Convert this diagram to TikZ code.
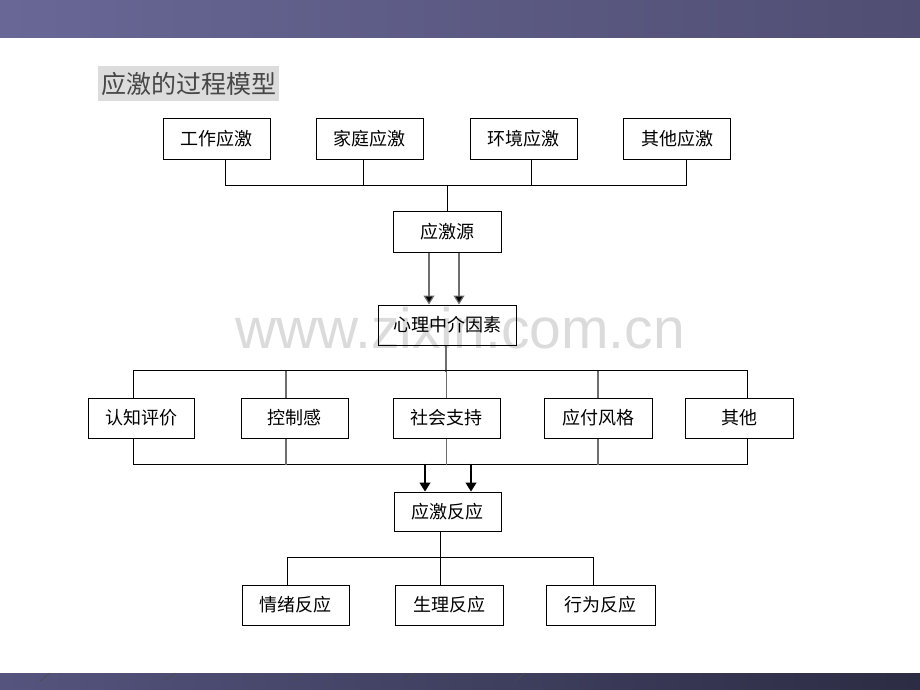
\documentclass[tikz,border=0pt]{standalone}
\usepackage{fontspec}
\setmainfont{Noto Sans CJK SC}
\newfontfamily\wmfont{Liberation Sans}
\usepackage{tikz}
\usetikzlibrary{arrows.meta}

\definecolor{bandtopL}{RGB}{104,103,150}
\definecolor{bandtopR}{RGB}{80,78,114}
\definecolor{bandbotL}{RGB}{84,84,126}
\definecolor{bandbotR}{RGB}{44,44,68}
\definecolor{titlebg}{RGB}{220,220,220}
\definecolor{linegray}{RGB}{110,110,110}

\begin{document}
\begin{tikzpicture}[x=1pt,y=-1pt,
    box/.style={draw,fill=white,line width=1pt,minimum width=107pt,minimum height=40pt,inner sep=0pt,font=\fontsize{18}{20}\selectfont},
    link/.style={line width=1pt},
    glink/.style={line width=1.3pt,draw=linegray},
    arr/.style={line width=1.2pt,draw=linegray,-{Triangle[length=9pt,width=11pt,fill=black]}}]
    \useasboundingbox (0,0) rectangle (920,690);

    % bands
    \shade[left color=bandtopL,right color=bandtopR] (0,0) rectangle (920,38);
    \shade[left color=bandbotL,right color=bandbotR] (0,673) rectangle (920,690);
    \foreach \x in {40,165,292,405,515}
        \draw[black!70,line width=0.6pt] (\x,681) -- (\x+10,673);

    % watermark
    \node [text=black!14,font=\wmfont\fontsize{57}{60}\selectfont] (WM) at (460,328) {www.zixin.com.cn};

    % title
    \fill[titlebg] (98,66) rectangle (279,101);
    \node [text=black!72,font=\fontsize{25}{28}\selectfont] (T) at (188.5,84) {应激的过程模型};

    % stressors
    \node [box] (GZ) at (216.5,139) {工作应激};
    \node [box] (JT) at (369.5,139) {家庭应激};
    \node [box] (HJ) at (523.5,139) {环境应激};
    \node [box] (QT) at (677,139) {其他应激};
    \node [box,minimum width=108pt,minimum height=41pt] (YJY) at (447,231.5) {应激源};
    \draw[link] ([xshift=8.5pt]GZ.south) -- ++(0,26) -| ([xshift=9pt]QT.south);
    \draw[link] ([xshift=-6.5pt]JT.south) -- ++(0,26);
    \draw[link] ([xshift=7.5pt]HJ.south) -- ++(0,26);
    \draw[link] (YJY.north) -- ++(0,-26);

    % mediators
    \node [box,fill=none,minimum width=138pt] (XL) at (447,325) {心理中介因素};
    \draw[arr] ([xshift=-18pt]YJY.south) -- ([xshift=-18pt]YJY.south |- XL.north);
    \draw[arr] ([xshift=12pt]YJY.south) -- ([xshift=12pt]YJY.south |- XL.north);

    \node [box,minimum width=106pt] (RZ) at (141,418) {认知评价};
    \node [box] (KZ) at (294.5,418) {控制感};
    \node [box] (SH) at (446.5,418) {社会支持};
    \node [box,minimum width=108pt] (YF) at (598,418) {应付风格};
    \node [box,minimum width=108pt] (QT2) at (739,418) {其他};
    \draw[glink] ([xshift=-1pt]XL.south) -- ++(0,26);
    \draw[link] ([xshift=-8pt]RZ.north) -- ++(0,-27) -| ([xshift=8pt]QT2.north);
    \draw[glink] ([xshift=-8.5pt]KZ.north) -- ++(0,-27);
    \draw[glink] (SH.north) -- ++(0,-27);
    \draw[glink] (YF.north) -- ++(0,-27);
    \draw[link] ([xshift=-8pt]RZ.south) -- ++(0,26) -| ([xshift=8pt]QT2.south);
    \draw[glink] ([xshift=-8.5pt]KZ.south) -- ++(0,26);
    \draw[glink] (SH.south) -- ++(0,26);
    \draw[glink] (YF.south) -- ++(0,26);

    % responses
    \node [box,minimum height=39pt] (FY) at (447.5,511.5) {应激反应};
    \draw[arr,draw=black] ([xshift=-22.5pt,yshift=28pt]FY.north) -- ([xshift=-22.5pt]FY.north);
    \draw[arr,draw=black] ([xshift=23.5pt,yshift=28pt]FY.north) -- ([xshift=23.5pt]FY.north);

    \node [box] (QX) at (295.5,605) {情绪反应};
    \node [box,minimum width=108pt] (SL) at (449,605) {生理反应};
    \node [box,minimum width=109pt] (XW) at (600.5,605) {行为反应};
    \draw[link] ([xshift=-7.5pt]FY.south) -- ([xshift=-9pt]SL.north);
    \draw[link] ([xshift=-8.5pt]QX.north) -- ++(0,-27) -| ([xshift=-7.5pt]XW.north);
\end{tikzpicture}
\end{document}
